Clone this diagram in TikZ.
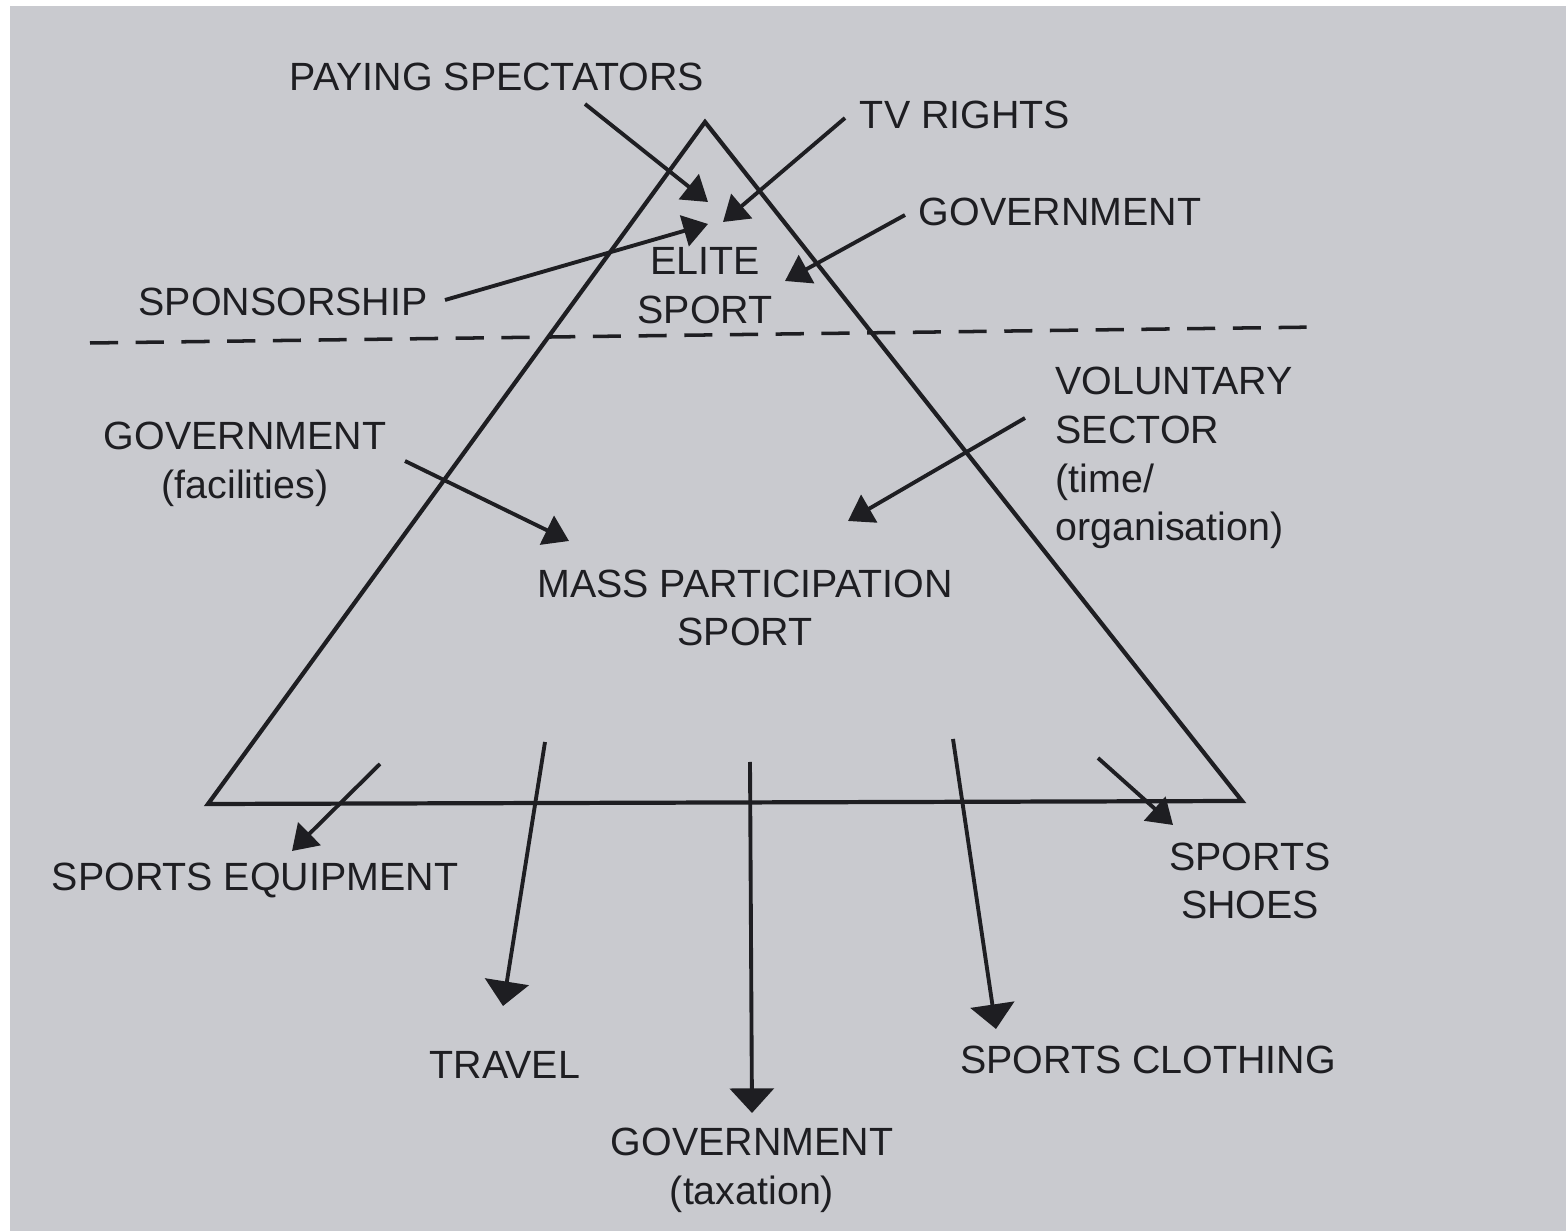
\documentclass[tikz,border=0pt]{standalone}
\usepackage{fontspec}
\setmainfont{Liberation Sans}
\usetikzlibrary{arrows.meta}
\definecolor{page}{RGB}{201,202,207}
\definecolor{ink}{RGB}{30,30,34}
\tikzset{
  lbl/.style={text=ink, font=\fontsize{11.2}{13.9}\selectfont, align=center, inner sep=0pt},
  flow/.style={line width=1.1pt, draw=ink, -{Triangle[width=9pt,length=7pt]}},
  bigflow/.style={line width=1.1pt, draw=ink, -{Triangle[width=12.5pt,length=7pt]}},
}

\begin{document}
\begin{tikzpicture}[x=0.01cm, y=-0.01cm]
		%%%%% START %%%%%
		\fill[white] (0, 0) rectangle (1566, 1231);
		\fill[page] (10, 6) rectangle (1566, 1231);
		\useasboundingbox (0, 0) rectangle (1566, 1231);
		
		% pyramid and split
		\coordinate (apex) at (705, 122);
		\coordinate (bl) at (208, 804);
		\coordinate (br) at (1242, 801);
		\draw[line width=1.2pt, color=ink] (apex) -- (bl) -- (br) -- cycle;
		\coordinate (cutl) at (90, 343);
		\coordinate (cutr) at (1320, 327);
		\draw[line width=1pt, color=ink, dash pattern=on 8pt off 5pt] (cutl) -- (cutr);
		
		% labels
		\node[lbl] (elite) at (705, 286) {ELITE\\SPORT};
		\node[lbl] (mass) at (745, 608) {MASS PARTICIPATION\\SPORT};
		
		\node[lbl] (spect) at (497, 77) {PAYING SPECTATORS};
		\node[lbl] (tv) at (965, 115) {TV RIGHTS};
		\node[lbl] (govtop) at (1060, 212) {GOVERNMENT};
		\node[lbl] (spons) at (283, 302) {SPONSORSHIP};
		\node[lbl] (govfac) at (245, 464) {GOVERNMENT\\(facilities)};
		\node[lbl, align=left, anchor=west] (vol) at (1055, 458) {VOLUNTARY\\SECTOR\\(time/\\organisation)};
		
		\node[lbl] (equip) at (255, 880) {SPORTS EQUIPMENT};
		\node[lbl] (shoes) at (1250, 881) {SPORTS\\SHOES};
		\node[lbl] (travel) at (505, 1065) {TRAVEL};
		\node[lbl] (cloth) at (1148, 1060) {SPORTS CLOTHING};
		\node[lbl] (govtax) at (752, 1170) {GOVERNMENT\\(taxation)};
		
		% money in, elite
		\coordinate (s1) at (585, 104);   \coordinate (e1) at (708, 202);
		\coordinate (s2) at (845, 118);   \coordinate (e2) at (723, 222);
		\coordinate (s3) at (445, 300);   \coordinate (e3) at (708, 224);
		\coordinate (s4) at (905, 215);   \coordinate (e4) at (785, 281);
		\draw[flow] (s1) -- (e1);
		\draw[flow] (s2) -- (e2);
		\draw[flow] (s3) -- (e3);
		\draw[flow] (s4) -- (e4);
		
		% money in, mass
		\coordinate (s5) at (405, 461);   \coordinate (e5) at (569, 541);
		\coordinate (s6) at (1025, 418);  \coordinate (e6) at (848, 521);
		\draw[flow] (s5) -- (e5);
		\draw[flow] (s6) -- (e6);
		
		% money out
		\coordinate (s7) at (380, 764);   \coordinate (e7) at (292, 851);
		\coordinate (s8) at (545, 742);   \coordinate (e8) at (503, 1006);
		\coordinate (s9) at (750, 762);   \coordinate (e9) at (752, 1113);
		\coordinate (s10) at (953, 739);  \coordinate (e10) at (996, 1029);
		\coordinate (s11) at (1098, 758); \coordinate (e11) at (1173, 825);
		\draw[flow] (s7) -- (e7);
		\draw[bigflow] (s8) -- (e8);
		\draw[bigflow] (s9) -- (e9);
		\draw[bigflow] (s10) -- (e10);
		\draw[flow] (s11) -- (e11);
		
		%%%%% END %%%%%
\end{tikzpicture}
\end{document}
